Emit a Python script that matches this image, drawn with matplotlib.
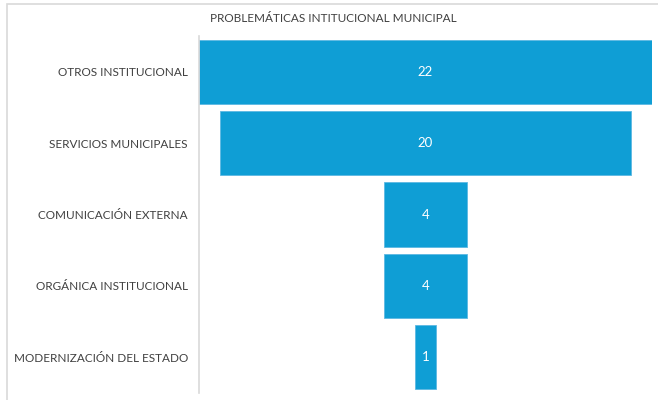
import matplotlib
matplotlib.use("Agg")
import matplotlib.pyplot as plt
from matplotlib.patches import Rectangle

categories = ["OTROS INSTITUCIONAL", "SERVICIOS MUNICIPALES", "COMUNICACIÓN EXTERNA",
              "ORGÁNICA INSTITUCIONAL", "MODERNIZACIÓN DEL ESTADO"]
values = [22, 20, 4, 4, 1]
title = "PROBLEMÁTICAS INTITUCIONAL MUNICIPAL"

W, H = 658, 400
fig = plt.figure(figsize=(W/100, H/100), dpi=100)
plt.rcParams['font.family'] = ['Lato', 'DejaVu Sans']

# chart border
fig.patches.append(Rectangle((7/W, -0.1), 1.2, (H-4)/H + 0.1, transform=fig.transFigure,
                             fill=False, edgecolor="#d9d9d9", linewidth=1.2))

ax = fig.add_axes([199/W, 1-393/H, (652-199)/W, (393-36)/H])
color = "#0F9ED5"
ys = list(range(len(categories)))
half = max(values) / 2
for y, v in zip(ys, values):
    ax.barh(y, v, left=-v/2, height=0.9, color=color, edgecolor="#5DB8E2", linewidth=0.6)
    ax.text(0, y, str(v), ha="center", va="center", color="white", fontsize=9.5)

ax.set_xlim(-half, half)
ax.set_ylim(len(categories)-0.5, -0.5)
ax.set_yticks(ys)
ax.set_yticklabels(categories, fontsize=8.5, color="#404040")
ax.tick_params(axis="y", length=0, pad=8)
ax.set_xticks([])
for s in ["top", "right", "bottom"]:
    ax.spines[s].set_visible(False)
ax.spines["left"].set_color("#d9d9d9")
ax.spines["left"].set_linewidth(1.2)

fig.text(333/W, 1-19/H, title, ha="center", va="center", fontsize=8.5, color="#404040")

fig.savefig("out.png", dpi=100)
